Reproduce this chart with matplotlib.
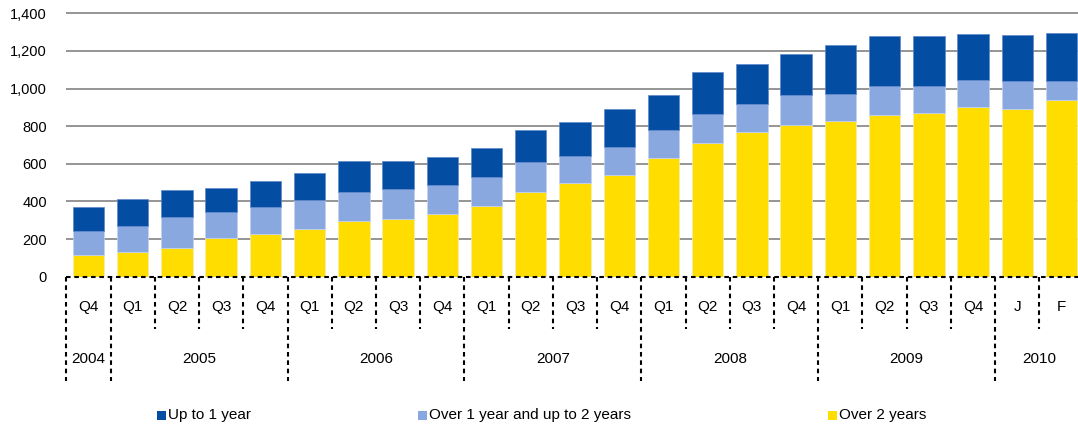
import numpy as np
import matplotlib
matplotlib.use('Agg')
from matplotlib import pyplot as plt
from matplotlib.patches import Rectangle

plt.rcParams['font.family'] = ['Liberation Sans', 'DejaVu Sans']
plt.rcParams['font.size'] = 10

# data
quarters = ['Q4', 'Q1', 'Q2', 'Q3', 'Q4', 'Q1', 'Q2', 'Q3', 'Q4', 'Q1', 'Q2', 'Q3',
            'Q4', 'Q1', 'Q2', 'Q3', 'Q4', 'Q1', 'Q2', 'Q3', 'Q4', 'J', 'F']
years = ['2004', '2005', '2006', '2007', '2008', '2009', '2010']
year_len = [1, 4, 4, 4, 4, 4, 2]
over2 = [115, 130, 153, 207, 225, 255, 298, 305, 332, 376, 450, 498, 541, 631, 711,
         768, 805, 826, 860, 870, 901, 893, 941]
one_two = [128, 141, 163, 137, 147, 151, 154, 160, 154, 152, 158, 145, 150, 149, 156,
           150, 163, 147, 154, 144, 145, 146, 98]
up1 = [126, 140, 147, 129, 137, 145, 161, 152, 148, 156, 174, 180, 199, 188, 221,
       211, 214, 257, 266, 264, 243, 248, 255]
labels = ['Up to 1 year', 'Over 1 year and up to 2 years', 'Over 2 years']
colors = ['#034ea2', '#8aa8e0', '#ffdd00']
yticks = [0, 200, 400, 600, 800, 1000, 1200, 1400]

W, H = 1078, 428
fig = plt.figure(figsize=(W / 100, H / 100), dpi=100)
ax = fig.add_axes([66.4 / W, 151.3 / H, 1017.2 / W, 263.4 / H])

x = np.arange(len(quarters))
over2 = np.array(over2)
one_two = np.array(one_two)
up1 = np.array(up1)
bw = 0.71
ax.bar(x, over2, bw, color=colors[2], edgecolor='#f3eeb0', lw=0.5, zorder=2)
ax.bar(x, one_two, bw, bottom=over2, color=colors[1], edgecolor='#c4d2ef', lw=0.5, zorder=2)
ax.bar(x, up1, bw, bottom=over2 + one_two, color=colors[0], edgecolor='#5f86cc', lw=0.5, zorder=2)

ax.set_xlim(-0.5, len(quarters) - 0.5)
ax.set_ylim(0, 1400)
ax.set_yticks(yticks)
ax.set_yticklabels(['{:,}'.format(v) for v in yticks], fontsize=10.5)
ax.tick_params(axis='y', length=0, pad=14)
ax.set_xticks([])
for s in ax.spines.values():
    s.set_visible(False)
ax.hlines(yticks[1:], -0.5, len(quarters) - 0.5, color='#8c8c8c', lw=1.3, zorder=1, clip_on=False)
ax.axhline(0, color='black', lw=1.5, ls=(0, (2.2, 1.8)), zorder=3, clip_on=False)

trans = ax.get_xaxis_transform()
dash = (0, (2.2, 1.8))
# quarter labels and separators
year_edges = list(np.cumsum([0] + year_len) - 0.5)
for i, q in enumerate(quarters):
    ax.text(i, -0.115, q, transform=trans, ha='center', va='center', fontsize=11)
    b = i - 0.5
    if b in year_edges:
        ax.plot([b, b], [0, -0.396], transform=trans, color='black', lw=1.5, ls=dash, clip_on=False)
    else:
        ax.plot([b, b], [0, -0.199], transform=trans, color='black', lw=1.5, ls=dash, clip_on=False)
# year labels
for k, yr in enumerate(years):
    c = (year_edges[k] + year_edges[k + 1]) / 2
    ax.text(c, -0.312, yr, transform=trans, ha='center', va='center', fontsize=11)

# legend
leg_x = [157, 418, 828]
for lx, lab, col in zip(leg_x, labels, [colors[0], colors[1], colors[2]]):
    fig.add_artist(Rectangle((lx / W, (H - 420.3) / H), 8.5 / W, 9.5 / H, transform=fig.transFigure,
                             color=col, lw=0))
    fig.text((lx + 11) / W, (H - 415.5) / H, lab, ha='left', va='center', fontsize=11)

plt.savefig('out.png', dpi=100)
